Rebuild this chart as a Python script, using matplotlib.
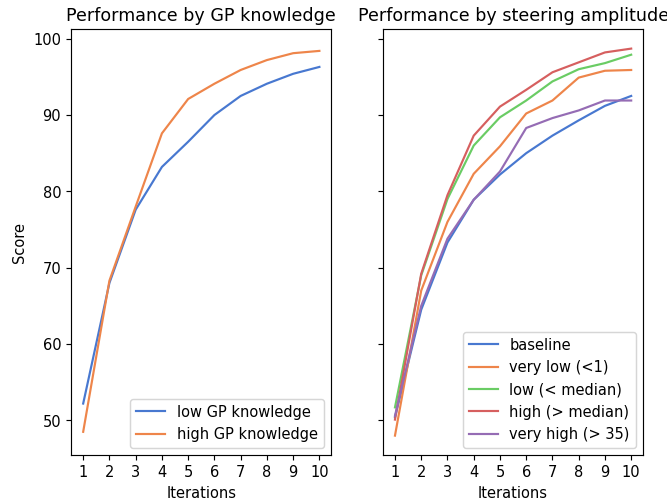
import matplotlib
matplotlib.use("Agg")
import matplotlib.pyplot as plt
import seaborn as sns

# data
iterations = [1, 2, 3, 4, 5, 6, 7, 8, 9, 10]

gp_low = [52.2, 68.0, 77.6, 83.2, 86.5, 90.0, 92.5, 94.1, 95.4, 96.3]
gp_high = [48.5, 68.3, 78.0, 87.6, 92.1, 94.1, 95.9, 97.2, 98.1, 98.4]

baseline = [50.4, 64.5, 73.3, 78.9, 82.2, 85.0, 87.3, 89.3, 91.2, 92.5]
very_low = [48.0, 67.0, 76.0, 82.3, 85.9, 90.2, 91.9, 94.9, 95.8, 95.9]
low = [51.7, 69.0, 79.0, 86.0, 89.7, 91.9, 94.4, 96.0, 96.8, 97.9]
high = [50.1, 69.2, 79.5, 87.3, 91.1, 93.3, 95.6, 96.9, 98.2, 98.7]
very_high = [50.6, 65.0, 73.8, 78.9, 82.6, 88.3, 89.6, 90.6, 91.9, 91.9]

gp_labels = ["low GP knowledge", "high GP knowledge"]
amp_labels = ["baseline", "very low (<1)", "low (< median)",
              "high (> median)", "very high (> 35)"]

colors = sns.color_palette("muted")

plt.rcParams["font.size"] = 10.1

fig, (ax1, ax2) = plt.subplots(1, 2, figsize=(6.4, 4.8), dpi=104.22, sharey=True)
fig.subplots_adjust(left=0.107, right=0.964, top=0.941, bottom=0.09, wspace=0.2)

# left panel
for i, (vals, lab) in enumerate(zip([gp_low, gp_high], gp_labels)):
    ax1.plot(iterations, vals, color=colors[i], label=lab, linewidth=1.5)
ax1.set_title("Performance by GP knowledge")
ax1.set_xlabel("Iterations")
ax1.set_ylabel("Score")
ax1.set_xticks(iterations)
ax1.legend(loc="lower right")

# right panel
series = [baseline, very_low, low, high, very_high]
for i, (vals, lab) in enumerate(zip(series, amp_labels)):
    ax2.plot(iterations, vals, color=colors[i], label=lab, linewidth=1.5)
ax2.set_title("Performance by steering amplitude")
ax2.set_xlabel("Iterations")
ax2.set_xticks(iterations)
ax2.legend(loc="lower right")

plt.savefig("out.png")
